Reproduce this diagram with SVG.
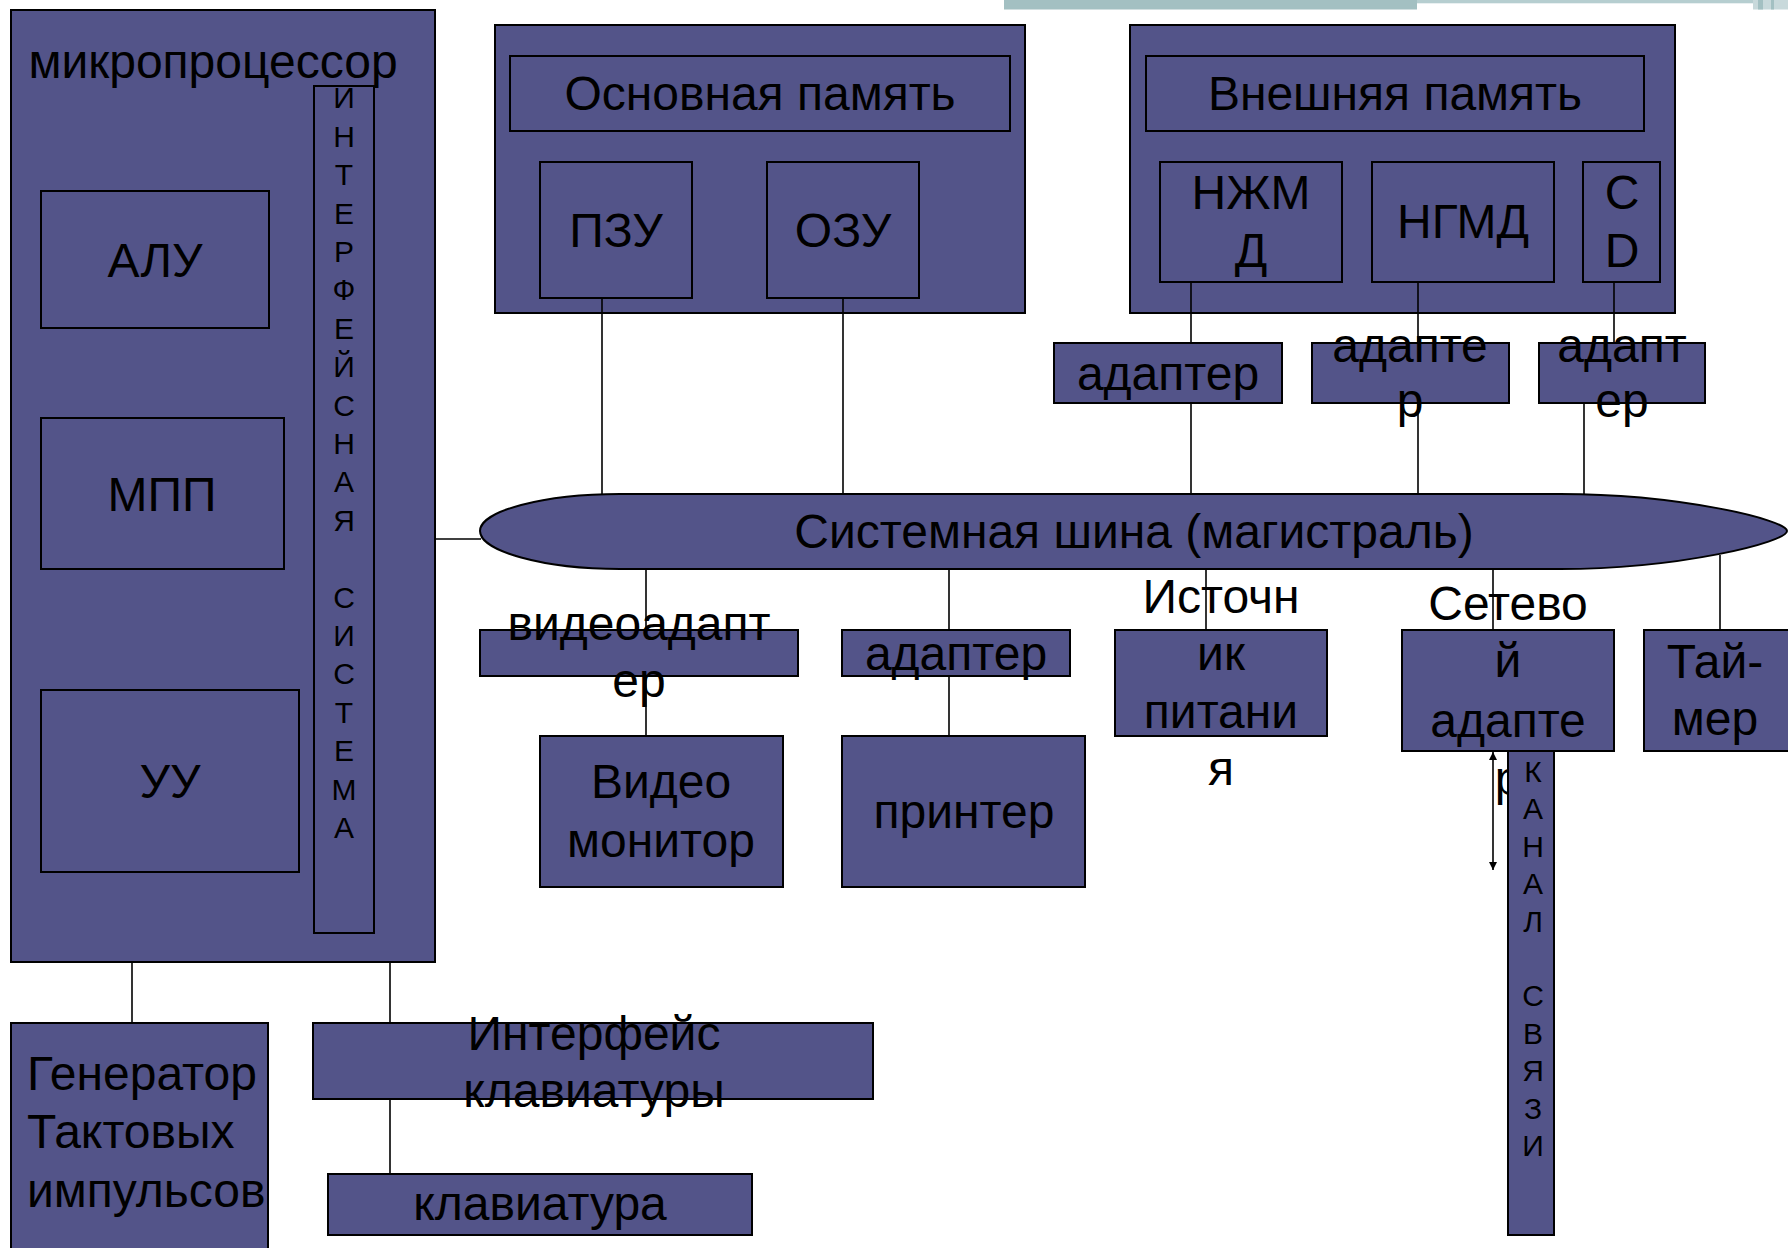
<svg xmlns="http://www.w3.org/2000/svg" width="1788" height="1248" viewBox="0 0 1788 1248">
<style>
.b{fill:#535489;stroke:#000;stroke-width:2}
.t{font-family:"Liberation Sans",Arial,sans-serif;font-size:48px;fill:#000;text-anchor:middle}
.s{font-family:"Liberation Sans",Arial,sans-serif;font-size:30px;fill:#000;text-anchor:middle}
.c{stroke:#000;stroke-width:1.6;fill:none}
</style>
<defs>
<marker id="ah" viewBox="0 0 10 10" refX="10" refY="5" markerWidth="8" markerHeight="12" markerUnits="userSpaceOnUse" orient="auto-start-reverse"><path d="M0,0 L10,5 L0,10 Z" fill="#000"/></marker>
</defs>
<rect width="1788" height="1248" fill="#fff"/>
<g id="decor">
<rect x="1004" y="0" width="413" height="9.5" fill="#A3C0C2"/>
<rect x="1417" y="0" width="336" height="3.3" fill="#B6CED0"/>
<rect x="1753" y="0" width="35" height="9.5" fill="#C8D9DB"/>
<rect x="1758" y="0" width="5" height="9.5" fill="#A3C0C2"/>
<rect x="1771" y="0" width="3" height="9.5" fill="#A3C0C2"/>
</g>
<g id="microprocessor">
<rect class="b" x="11" y="10" width="424" height="952"/>
<text class="t" x="213" y="78">микропроцессор</text>
</g>
<g id="alu"><rect class="b" x="41" y="191" width="228" height="137"/><text class="t" x="155" y="277">АЛУ</text></g>
<g id="mpp"><rect class="b" x="41" y="418" width="243" height="151"/><text class="t" x="162" y="511">МПП</text></g>
<g id="uu"><rect class="b" x="41" y="690" width="258" height="182"/><text class="t" x="170" y="798">УУ</text></g>
<g id="interface-system">
<rect class="b" x="314" y="86" width="60" height="847"/>
<text class="s" x="344" y="108.4">И</text><text class="s" x="344" y="146.8">Н</text><text class="s" x="344" y="185.2">Т</text><text class="s" x="344" y="223.6">Е</text><text class="s" x="344" y="262">Р</text><text class="s" x="344" y="300.4">Ф</text><text class="s" x="344" y="338.8">Е</text><text class="s" x="344" y="377.2">Й</text><text class="s" x="344" y="415.6">С</text><text class="s" x="344" y="454">Н</text><text class="s" x="344" y="492.4">А</text><text class="s" x="344" y="530.8">Я</text><text class="s" x="344" y="607.6">С</text><text class="s" x="344" y="646">И</text><text class="s" x="344" y="684.4">С</text><text class="s" x="344" y="722.8">Т</text><text class="s" x="344" y="761.2">Е</text><text class="s" x="344" y="799.6">М</text><text class="s" x="344" y="838">А</text>
</g>
<g id="main-memory">
<rect class="b" x="495" y="25" width="530" height="288"/>
<rect class="b" x="510" y="56" width="500" height="75"/>
<text class="t" x="760" y="110">Основная память</text>
</g>
<g id="rom"><rect class="b" x="540" y="162" width="152" height="136"/><text class="t" x="616" y="247">ПЗУ</text></g>
<g id="ram"><rect class="b" x="767" y="162" width="152" height="136"/><text class="t" x="843" y="247">ОЗУ</text></g>
<g id="external-memory">
<rect class="b" x="1130" y="25" width="545" height="288"/>
<rect class="b" x="1146" y="56" width="498" height="75"/>
<text class="t" x="1395" y="110">Внешняя память</text>
</g>
<g id="hdd"><rect class="b" x="1160" y="162" width="182" height="120"/><text class="t" x="1251" y="209">НЖМ</text><text class="t" x="1251" y="267">Д</text></g>
<g id="fdd"><rect class="b" x="1372" y="162" width="182" height="120"/><text class="t" x="1463" y="238">НГМД</text></g>
<g id="cd"><rect class="b" x="1583" y="162" width="77" height="120"/><text class="t" x="1622" y="209">C</text><text class="t" x="1622" y="267">D</text></g>
<g id="adapter-hdd"><rect class="b" x="1054" y="343" width="228" height="60"/><text class="t" x="1168" y="390">адаптер</text></g>
<g id="adapter-fdd"><rect class="b" x="1312" y="343" width="197" height="60"/><text class="t" x="1410" y="362">адапте</text><text class="t" x="1410" y="417">р</text></g>
<g id="adapter-cd"><rect class="b" x="1539" y="343" width="166" height="60"/><text class="t" x="1622" y="362">адапт</text><text class="t" x="1622" y="417">ер</text></g>
<g id="system-bus">
<path class="b" d="M480,531 C480,511 543,494 620,494 L1560,494 C1680,494 1787,520 1787,531 C1787,542 1680,569 1560,569 L620,569 C543,569 480,551 480,531 Z"/>
<text class="t" x="1134" y="548">Системная шина (магистраль)</text>
</g>
<g id="videoadapter"><rect class="b" x="480" y="630" width="318" height="46"/><text class="t" x="639" y="640">видеоадапт</text><text class="t" x="639" y="697">ер</text></g>
<g id="printer-adapter"><rect class="b" x="842" y="630" width="228" height="46"/><text class="t" x="956" y="670">адаптер</text></g>
<g id="video-monitor"><rect class="b" x="540" y="736" width="243" height="151"/><text class="t" x="661" y="798">Видео</text><text class="t" x="661" y="857">монитор</text></g>
<g id="printer"><rect class="b" x="842" y="736" width="243" height="151"/><text class="t" x="964" y="828">принтер</text></g>
<g id="power-supply"><rect class="b" x="1115" y="630" width="212" height="106"/><text class="t" x="1221" y="613">Источн</text><text class="t" x="1221" y="670">ик</text><text class="t" x="1221" y="728">питани</text><text class="t" x="1221" y="785">я</text></g>
<g id="network-adapter"><rect class="b" x="1402" y="630" width="212" height="121"/><text class="t" x="1508" y="620">Сетево</text><text class="t" x="1508" y="677">й</text><text class="t" x="1508" y="737">адапте</text><text class="t" x="1508" y="795">р</text></g>
<g id="timer"><rect class="b" x="1644" y="630" width="150" height="121"/><text class="t" x="1715" y="678">Тай-</text><text class="t" x="1715" y="735">мер</text></g>
<g id="clock-generator"><rect class="b" x="11" y="1023" width="257" height="240"/><text class="t" style="text-anchor:start" x="27" y="1090">Генератор</text><text class="t" style="text-anchor:start" x="27" y="1148">Тактовых</text><text class="t" style="text-anchor:start" x="27" y="1207">импульсов</text></g>
<g id="keyboard-interface"><rect class="b" x="313" y="1023" width="560" height="76"/><text class="t" x="594" y="1050">Интерфейс</text><text class="t" x="594" y="1107">клавиатуры</text></g>
<g id="keyboard"><rect class="b" x="328" y="1174" width="424" height="61"/><text class="t" x="540" y="1220">клавиатура</text></g>
<g id="connectors">
<line class="c" x1="602" y1="298" x2="602" y2="494"/>
<line class="c" x1="843" y1="298" x2="843" y2="494"/>
<line class="c" x1="1191" y1="282" x2="1191" y2="343"/>
<line class="c" x1="1191" y1="403" x2="1191" y2="494"/>
<line class="c" x1="1418" y1="282" x2="1418" y2="343"/>
<line class="c" x1="1418" y1="403" x2="1418" y2="494"/>
<line class="c" x1="1614" y1="282" x2="1614" y2="343"/>
<line class="c" x1="1584" y1="403" x2="1584" y2="494"/>
<line class="c" x1="435" y1="539" x2="481" y2="539"/>
<line class="c" x1="646" y1="569" x2="646" y2="630"/>
<line class="c" x1="646" y1="676" x2="646" y2="736"/>
<line class="c" x1="949" y1="569" x2="949" y2="630"/>
<line class="c" x1="949" y1="676" x2="949" y2="736"/>
<line class="c" x1="1206" y1="569" x2="1206" y2="630"/>
<line class="c" x1="1493" y1="569" x2="1493" y2="630"/>
<line class="c" x1="1720" y1="555" x2="1720" y2="630"/>
<line class="c" x1="132" y1="962" x2="132" y2="1023"/>
<line class="c" x1="390" y1="962" x2="390" y2="1023"/>
<line class="c" x1="390" y1="1099" x2="390" y2="1174"/>
<line class="c" x1="1493" y1="752" x2="1493" y2="870" marker-start="url(#ah)" marker-end="url(#ah)"/>
</g>
<g id="communication-channel">
<rect class="b" x="1508" y="751" width="46" height="484"/>
<text class="s" x="1533" y="782">К</text><text class="s" x="1533" y="819.4">А</text><text class="s" x="1533" y="856.8">Н</text><text class="s" x="1533" y="894.2">А</text><text class="s" x="1533" y="931.6">Л</text><text class="s" x="1533" y="1006.4">С</text><text class="s" x="1533" y="1043.8">В</text><text class="s" x="1533" y="1081.2">Я</text><text class="s" x="1533" y="1118.6">З</text><text class="s" x="1533" y="1156">И</text>
</g>
</svg>
